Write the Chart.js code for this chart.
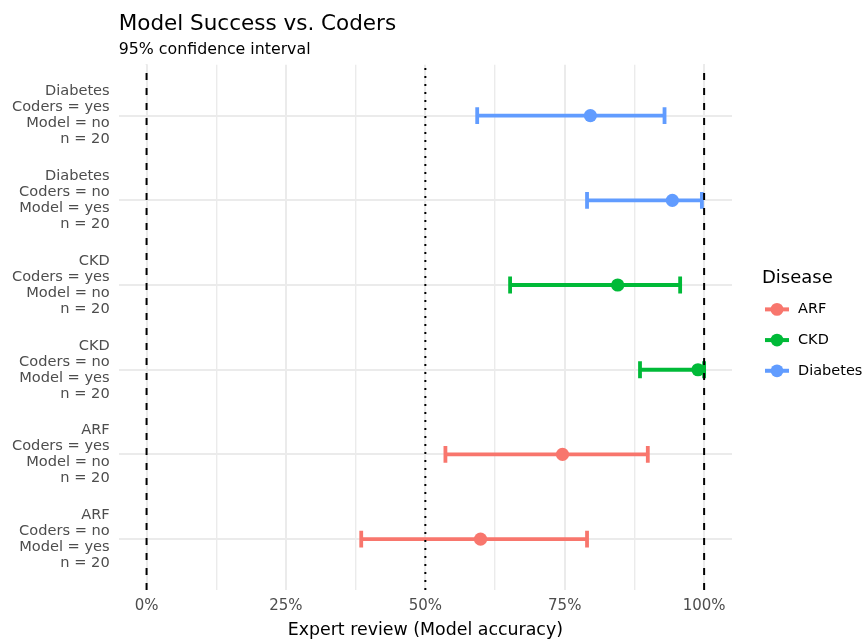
<!DOCTYPE html>
<html>
<head>
<meta charset="utf-8">
<script src="https://cdn.jsdelivr.net/npm/chart.js@4/dist/chart.umd.min.js"></script>
<style>
  html, body { margin: 0; padding: 0; background: #fff; }
  #wrap { width: 863px; height: 640px; }
</style>
</head>
<body>
<div id="wrap"><canvas id="chart" width="863" height="640"></canvas></div>
<script>
// rows from bottom to top
const disease = ['ARF', 'ARF', 'CKD', 'CKD', 'Diabetes', 'Diabetes'];
const codersCorrect = ['no', 'yes', 'no', 'yes', 'no', 'yes'];
const modelCorrect = ['yes', 'no', 'yes', 'no', 'yes', 'no'];
const nCases = [20, 20, 20, 20, 20, 20];
const accuracy = [0.599, 0.746, 0.989, 0.845, 0.943, 0.796];
const ciLow = [0.385, 0.536, 0.885, 0.652, 0.790, 0.593];
const ciHigh = [0.790, 0.899, 1.000, 0.957, 0.996, 0.929];

const diseases = ['ARF', 'CKD', 'Diabetes'];
const diseaseColors = ['#F8766D', '#00BA38', '#619CFF'];

const xMajorTicks = [0, 0.25, 0.5, 0.75, 1];
const xMinorTicks = [0.125, 0.375, 0.625, 0.875];
const refLines = [0, 0.5, 1];
const refDash = [[7, 8], [2, 6], [7, 8]];

const X_MIN = -0.05, X_MAX = 1.05;
const Y_MIN = 0.4, Y_MAX = disease.length + 0.6;
const FONT = '"DejaVu Sans", sans-serif';

Chart.defaults.font.family = FONT;

function colorOf(d) {
    return diseaseColors[diseases.indexOf(d)];
}

const datasets = [];

// reference lines go on top
refLines.forEach((v, i) => {
    datasets.push({
        data: [{ x: v, y: Y_MIN }, { x: v, y: Y_MAX }],
        showLine: true,
        borderColor: '#000',
        borderWidth: 2,
        borderDash: refDash[i],
        pointRadius: 0,
        order: 0
    });
});

// points, one dataset per disease
diseases.forEach(d => {
    const pts = [];
    disease.forEach((dd, i) => {
        if (dd === d) pts.push({ x: accuracy[i], y: i + 1 });
    });
    datasets.push({
        data: pts,
        backgroundColor: colorOf(d),
        borderWidth: 0,
        pointRadius: 6.6,
        order: 1
    });
});

// error bars, one dataset per row, caps as rotated 'line' points
disease.forEach((d, i) => {
    datasets.push({
        data: [{ x: ciLow[i], y: i + 1 }, { x: ciHigh[i], y: i + 1 }],
        showLine: true,
        borderColor: colorOf(d),
        borderWidth: 3.8,
        pointStyle: 'line',
        rotation: 90,
        pointRadius: 8.4,
        pointBorderColor: colorOf(d),
        pointBorderWidth: 3.8,
        order: 2
    });
});

const diseaseLegend = {
    id: 'diseaseLegend',
    afterDraw(chart) {
        const { ctx, chartArea } = chart;
        const x0 = chartArea.right + 30;
        const midY = (chartArea.top + chartArea.bottom) / 2;
        ctx.save();
        ctx.textAlign = 'left';
        ctx.textBaseline = 'middle';
        ctx.fillStyle = '#000';
        ctx.font = '18px ' + FONT;
        ctx.fillText('Disease', x0, midY - 49);
        ctx.font = '14.5px ' + FONT;
        diseases.forEach((d, i) => {
            const y = midY - 18 + i * 30.7;
            ctx.strokeStyle = diseaseColors[i];
            ctx.lineWidth = 4;
            ctx.beginPath();
            ctx.moveTo(x0 + 3, y);
            ctx.lineTo(x0 + 27, y);
            ctx.stroke();
            ctx.fillStyle = diseaseColors[i];
            ctx.beginPath();
            ctx.arc(x0 + 15, y, 6.4, 0, Math.PI * 2);
            ctx.fill();
            ctx.fillStyle = '#000';
            ctx.fillText(d, x0 + 36, y);
        });
        ctx.restore();
    }
};

new Chart(document.getElementById('chart'), {
    type: 'scatter',
    data: { datasets },
    plugins: [diseaseLegend],
    options: {
        responsive: false,
        animation: false,
        events: [],
        layout: { padding: { left: 3, right: 131, top: 0, bottom: 0 } },
        plugins: {
            legend: { display: false },
            tooltip: { enabled: false },
            title: {
                display: true,
                text: 'Model Success vs. Coders',
                align: 'start',
                fullSize: false,
                color: '#000',
                font: { size: 21.5, weight: 'normal' },
                padding: { top: 12, bottom: 3 }
            },
            subtitle: {
                display: true,
                text: '95% confidence interval',
                align: 'start',
                fullSize: false,
                color: '#000',
                font: { size: 15.8 },
                padding: { top: 0, bottom: 5 }
            }
        },
        scales: {
            x: {
                type: 'linear',
                min: X_MIN,
                max: X_MAX,
                afterBuildTicks: axis => {
                    axis.ticks = xMajorTicks.concat(xMinorTicks).sort((a, b) => a - b).map(v => ({ value: v }));
                },
                border: { display: false },
                grid: {
                    drawTicks: false,
                    color: '#ebebeb',
                    lineWidth: c => xMajorTicks.includes(c.tick && c.tick.value) ? 2 : 1.4
                },
                ticks: {
                    autoSkip: false,
                    maxRotation: 0,
                    padding: 7,
                    color: '#4d4d4d',
                    font: { size: 15 },
                    callback: v => xMajorTicks.includes(v) ? Math.round(v * 100) + '%' : ''
                },
                title: {
                    display: true,
                    text: 'Expert review (Model accuracy)',
                    color: '#000',
                    font: { size: 17.4, lineHeight: 1 },
                    padding: { top: 0, bottom: 0.6 }
                }
            },
            y: {
                type: 'linear',
                min: Y_MIN,
                max: Y_MAX,
                afterBuildTicks: axis => {
                    axis.ticks = disease.map((d, i) => ({ value: i + 1 }));
                },
                afterFit: axis => {
                    axis.paddingTop = 0;
                    axis.paddingBottom = 0;
                },
                border: { display: false },
                grid: {
                    drawTicks: false,
                    color: '#ebebeb',
                    lineWidth: 2
                },
                ticks: {
                    autoSkip: false,
                    padding: 9,
                    color: '#4d4d4d',
                    font: { size: 14.6, lineHeight: 16 / 14.6 },
                    callback: v => {
                        const i = v - 1;
                        return [disease[i], 'Coders = ' + codersCorrect[i], 'Model = ' + modelCorrect[i], 'n = ' + nCases[i]];
                    }
                }
            }
        }
    }
});
</script>
</body>
</html>
